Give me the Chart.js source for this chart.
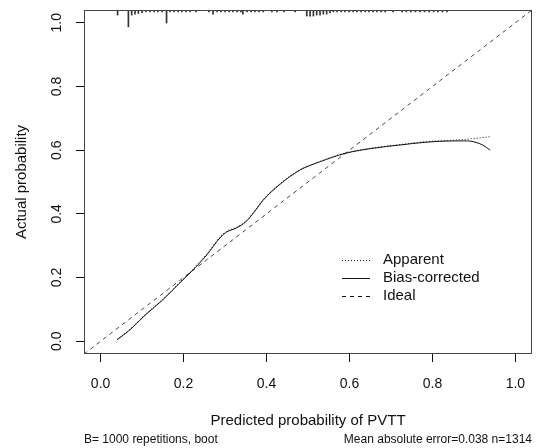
<!DOCTYPE html>
<html>
<head>
<meta charset="utf-8">
<script src="https://cdn.jsdelivr.net/npm/chart.js@4.4.1/dist/chart.umd.min.js"></script>
<style>
  html, body { margin: 0; padding: 0; background: #fff; }
  #wrap { width: 536px; height: 448px; }
</style>
</head>
<body>
<div id="wrap"><canvas id="cal" width="536" height="448"></canvas></div>
<script>
// Calibration plot (apparent vs bias-corrected) for the PVTT model.
// Values.

const axisTicks = [0, 0.2, 0.4, 0.6, 0.8, 1.0];
const axisMin = -0.04;
const axisMax = 1.04;

const biasX = [0.04, 0.07, 0.11, 0.15, 0.19, 0.22, 0.256, 0.288, 0.304, 0.328, 0.35, 0.37,
  0.392, 0.43, 0.48, 0.53, 0.59, 0.657, 0.72, 0.786, 0.85, 0.885, 0.90, 0.92, 0.939];
const biasY = [0.005, 0.035, 0.085, 0.13, 0.182, 0.22, 0.271, 0.325, 0.343, 0.356, 0.375, 0.405,
  0.443, 0.49, 0.537, 0.564, 0.59, 0.606, 0.616, 0.625, 0.629, 0.629, 0.626, 0.617, 0.600];

const appX = [0.04, 0.07, 0.11, 0.15, 0.19, 0.22, 0.256, 0.288, 0.304, 0.328, 0.35, 0.37,
  0.392, 0.43, 0.48, 0.53, 0.59, 0.657, 0.72, 0.786, 0.85, 0.88, 0.91, 0.939];
const appY = [0.006, 0.037, 0.087, 0.132, 0.184, 0.223, 0.274, 0.328, 0.345, 0.358, 0.377, 0.407,
  0.445, 0.492, 0.538, 0.565, 0.591, 0.607, 0.617, 0.627, 0.631, 0.634, 0.638, 0.642];

const idealX = [-0.04, 1.04];
const idealY = [-0.04, 1.04];

// spike histogram of the predictions hanging from the top edge
const rugX = [
  0.041, 0.067, 0.075, 0.083, 0.091, 0.100, 0.109, 0.119, 0.129, 0.138,
  0.148, 0.159, 0.167, 0.177, 0.187, 0.196, 0.206, 0.216, 0.230, 0.261,
  0.271, 0.281, 0.290, 0.300, 0.310, 0.319, 0.329, 0.338, 0.343, 0.353,
  0.363, 0.372, 0.382, 0.392, 0.413, 0.425, 0.442, 0.469, 0.497, 0.505,
  0.513, 0.521, 0.529, 0.537, 0.545, 0.553, 0.561, 0.570, 0.580, 0.589,
  0.599, 0.609, 0.618, 0.628, 0.638, 0.647, 0.657, 0.666, 0.676, 0.686,
  0.705, 0.727, 0.737, 0.748, 0.759, 0.770, 0.781, 0.792, 0.803, 0.813,
  0.824, 0.835];
const rugLen = [
  0.016, 0.053, 0.016, 0.013, 0.011, 0.008, 0.006, 0.006, 0.006, 0.006,
  0.006, 0.041, 0.006, 0.006, 0.006, 0.006, 0.006, 0.006, 0.006, 0.006,
  0.013, 0.006, 0.006, 0.006, 0.006, 0.006, 0.006, 0.006, 0.013, 0.006,
  0.006, 0.006, 0.006, 0.006, 0.006, 0.006, 0.006, 0.006, 0.019, 0.019,
  0.019, 0.016, 0.016, 0.013, 0.013, 0.009, 0.006, 0.006, 0.006, 0.006,
  0.006, 0.006, 0.006, 0.006, 0.006, 0.006, 0.006, 0.006, 0.006, 0.006,
  0.006, 0.006, 0.006, 0.006, 0.006, 0.006, 0.006, 0.006, 0.006, 0.006,
  0.006, 0.006];

const xTitle = 'Predicted probability of PVTT';
const yTitle = 'Actual probability';
const noteLeft = 'B= 1000 repetitions, boot';
const noteRight = 'Mean absolute error=0.038 n=1314';

const FONT = 'Arial, "Liberation Sans", sans-serif';
const INK = '#111';

function el(id) { return document.getElementById(id); }
function pts(xs, ys) { return xs.map((x, i) => ({ x: x, y: ys[i] })); }

Chart.defaults.font.family = FONT;
Chart.defaults.color = INK;

// full box round the plotting region, like base R's box()
const boxPlugin = {
  id: 'box',
  afterDatasetsDraw(chart) {
    const a = chart.chartArea, ctx = chart.ctx;
    ctx.save();
    ctx.strokeStyle = '#444';
    ctx.lineWidth = 1;
    ctx.strokeRect(a.left + 0.5, a.top + 0.5, a.right - a.left - 1, a.bottom - a.top - 1);
    ctx.restore();
  }
};

// legend sits inside the plot, lines + labels, no frame
const innerLegend = {
  id: 'innerLegend',
  afterDraw(chart) {
    const ctx = chart.ctx;
    ctx.save();
    ctx.font = '15px ' + FONT;
    ctx.textBaseline = 'middle';
    chart.data.datasets.slice(0, 3).forEach((d, i) => {
      const y = 260 + i * 18;
      ctx.beginPath();
      ctx.setLineDash(d.borderDash || []);
      ctx.strokeStyle = INK;
      ctx.lineWidth = 1;
      ctx.moveTo(342, y + 0.5);
      ctx.lineTo(370, y + 0.5);
      ctx.stroke();
      ctx.setLineDash([]);
      ctx.fillStyle = INK;
      ctx.fillText(d.label, 383, y);
    });
    ctx.restore();
  }
};

// the two small notes under the x axis title
const notes = {
  id: 'notes',
  afterDraw(chart) {
    const a = chart.chartArea, ctx = chart.ctx;
    ctx.save();
    ctx.font = '12px ' + FONT;
    ctx.fillStyle = INK;
    ctx.textBaseline = 'middle';
    ctx.textAlign = 'left';
    ctx.fillText(noteLeft, a.left, 440);
    ctx.textAlign = 'right';
    ctx.fillText(noteRight, a.right, 440);
    ctx.restore();
  }
};

const rugBars = rugX.map((x, i) => ({ x: x, y: [axisMax - rugLen[i], axisMax] }));

new Chart(el('cal'), {
  type: 'line',
  data: {
    datasets: [
      { label: 'Apparent', data: pts(appX, appY), borderColor: INK, borderWidth: 1,
        borderDash: [1, 2], pointRadius: 0, cubicInterpolationMode: 'monotone' },
      { label: 'Bias-corrected', data: pts(biasX, biasY), borderColor: INK, borderWidth: 1,
        pointRadius: 0, cubicInterpolationMode: 'monotone' },
      { label: 'Ideal', data: pts(idealX, idealY), borderColor: '#444', borderWidth: 1,
        borderDash: [4, 4], pointRadius: 0, tension: 0 },
      { type: 'bar', label: 'rug', data: rugBars, backgroundColor: '#333',
        barThickness: 1, grouped: false }
    ]
  },
  options: {
    responsive: false,
    animation: false,
    devicePixelRatio: 1,
    layout: { padding: { top: 10, right: 4, left: 0, bottom: 0 } },
    plugins: { legend: { display: false }, tooltip: { enabled: false } },
    scales: {
      x: {
        type: 'linear', min: axisMin, max: axisMax, offset: false,
        afterBuildTicks: s => { s.ticks = axisTicks.map(v => ({ value: v })); },
        afterFit: s => { s.height = 94; s.paddingLeft = 0; s.paddingRight = 0; },
        grid: { drawOnChartArea: false, drawTicks: true, tickLength: 8, color: INK, offset: false },
        border: { display: false },
        ticks: { font: { size: 14 }, padding: 14, maxRotation: 0, autoSkip: false,
          callback: v => Number(v).toFixed(1) },
        title: { display: true, text: xTitle, font: { size: 15 }, padding: { top: 0, bottom: 18 } }
      },
      y: {
        type: 'linear', min: axisMin, max: axisMax,
        afterBuildTicks: s => { s.ticks = axisTicks.map(v => ({ value: v })); },
        afterFit: s => { s.width = 84; s.paddingTop = 0; s.paddingBottom = 0; },
        grid: { drawOnChartArea: false, drawTicks: true, tickLength: 8, color: INK },
        border: { display: false },
        ticks: { font: { size: 14 }, padding: 9, minRotation: 90, maxRotation: 90,
          crossAlign: 'center', autoSkip: false, callback: v => Number(v).toFixed(1) },
        title: { display: true, text: yTitle, font: { size: 15 }, padding: { top: 13, bottom: 0 } }
      }
    }
  },
  plugins: [boxPlugin, innerLegend, notes]
});
</script>
</body>
</html>
